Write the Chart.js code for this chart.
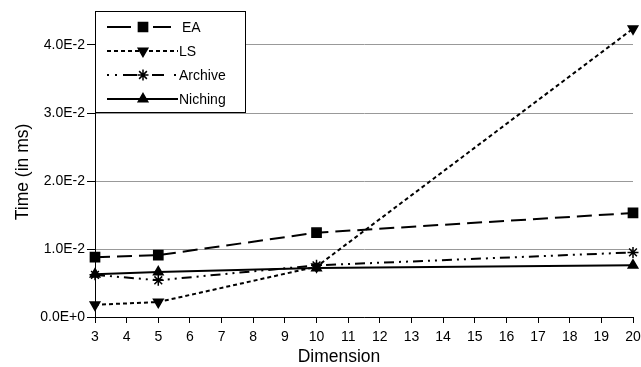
<!DOCTYPE html>
<html>
<head>
<meta charset="utf-8">
<script src="https://cdn.jsdelivr.net/npm/chart.js@4.4.0/dist/chart.umd.min.js"></script>
<style>
  html, body { margin: 0; padding: 0; background: #fff; }
  #wrap { width: 641px; height: 367px; }
</style>
</head>
<body>
<div id="wrap"><canvas id="chart-1" width="641" height="367"></canvas></div>
<script>
const dimensions = [3, 5, 10, 20];
const eaTimes = [0.0088, 0.0091, 0.0124, 0.0153];
const lsTimes = [0.0018, 0.0022, 0.0074, 0.0424];
const archiveTimes = [0.0062, 0.0054, 0.0076, 0.0095];
const nichingTimes = [0.0063, 0.0066, 0.0072, 0.0076];
const yTicks = [0, 0.01, 0.02, 0.03, 0.04];

const FONT = '"Liberation Sans", Arial, sans-serif';

function toPoints(values) {
    return dimensions.map((d, i) => ({ x: d, y: values[i] }));
}

function series(label, values, dash, legendDash, pointStyle, radius, rotation) {
    return {
        label: label,
        data: toPoints(values),
        borderColor: '#000',
        backgroundColor: '#000',
        borderWidth: 2,
        borderDash: dash,
        legendDash: legendDash,
        pointStyle: pointStyle,
        pointRadius: radius,
        pointRotation: rotation || 0,
        pointBorderWidth: 1.5,
        pointBackgroundColor: '#000',
        pointBorderColor: '#000',
        tension: 0,
        clip: false
    };
}

// legend box inside the plot: line sample with the marker in the middle
const boxLegend = {
    id: 'boxLegend',
    afterDatasetsDraw(chart) {
        const ctx = chart.ctx;
        const x0 = chart.chartArea.left, y0 = chart.chartArea.top;
        const w = 150, h = 101;
        ctx.save();
        ctx.fillStyle = '#fff';
        ctx.fillRect(x0, y0, w, h);
        ctx.strokeStyle = '#000';
        ctx.lineWidth = 1;
        ctx.strokeRect(x0 + 0.5, y0 + 0.5, w, h);
        ctx.font = '14px ' + FONT;
        ctx.textBaseline = 'middle';
        chart.data.datasets.forEach((ds, i) => {
            const y = y0 + 16 + i * 24;
            ctx.strokeStyle = '#000';
            ctx.lineWidth = 2;
            ctx.setLineDash(ds.legendDash);
            ctx.beginPath();
            ctx.moveTo(x0 + 12, y);
            ctx.lineTo(x0 + (i === 0 ? 76 : 83), y);
            ctx.stroke();
            ctx.setLineDash([]);
            ctx.fillStyle = '#000';
            ctx.lineWidth = 1.5;
            Chart.helpers.drawPoint(ctx, {
                pointStyle: ds.pointStyle,
                radius: ds.pointRadius,
                rotation: ds.pointRotation,
                borderWidth: 1.5
            }, x0 + 48, y);
            ctx.fillText(ds.label, x0 + (i === 0 ? 87 : 84), y + 1);
        });
        ctx.restore();
    }
};

// axis titles placed like the original sheet
const axisTitles = {
    id: 'axisTitles',
    afterDraw(chart) {
        const ctx = chart.ctx;
        ctx.save();
        ctx.fillStyle = '#000';
        ctx.font = '17.5px ' + FONT;
        ctx.textAlign = 'center';
        ctx.textBaseline = 'middle';
        ctx.fillText('Dimension', 339, 357);
        ctx.translate(23, 172);
        ctx.rotate(-Math.PI / 2);
        ctx.fillText('Time (in ms)', 0, 0);
        ctx.restore();
    }
};

const ctx = document.getElementById('chart-1').getContext('2d');

const timeChart = new Chart(ctx, {
    type: 'line',
    data: {
        datasets: [
            series('EA', eaTimes, [15, 7], [24, 22], 'rect', 6.5),
            series('LS', lsTimes, [4, 3], [4, 3], 'triangle', 5.5, 180),
            series('Archive', archiveTimes, [10, 5, 2, 5, 2, 5], [2, 6, 2, 6, 14, 6, 2, 7, 12, 10], 'star', 5.5),
            series('Niching', nichingTimes, [], [], 'triangle', 5.5)
        ]
    },
    options: {
        responsive: false,
        animation: false,
        layout: { padding: { top: 11, right: 0, left: 8, bottom: 4 } },
        plugins: {
            legend: { display: false },
            tooltip: { enabled: false }
        },
        scales: {
            x: {
                type: 'linear',
                min: 3,
                max: 20,
                ticks: {
                    stepSize: 1,
                    color: '#000',
                    font: { family: FONT, size: 14 },
                    padding: 6
                },
                grid: {
                    display: true,
                    drawOnChartArea: false,
                    tickLength: 6,
                    tickColor: '#000'
                },
                border: { color: '#000', width: 1 },
                afterFit(scale) {
                    scale.height = 46;
                    scale.paddingRight = 8;
                }
            },
            y: {
                type: 'linear',
                min: 0,
                max: 0.045,
                afterBuildTicks(scale) {
                    scale.ticks = yTicks.map(v => ({ value: v }));
                },
                ticks: {
                    color: '#000',
                    font: { family: FONT, size: 14 },
                    padding: 2,
                    callback: v => v.toExponential(1).replace('e', 'E')
                },
                grid: {
                    color: '#999',
                    lineWidth: 1,
                    tickLength: 8,
                    tickColor: '#000'
                },
                border: { color: '#000', width: 1 },
                afterFit(scale) { scale.width = 87; }
            }
        }
    },
    plugins: [boxLegend, axisTitles]
});
</script>
</body>
</html>
